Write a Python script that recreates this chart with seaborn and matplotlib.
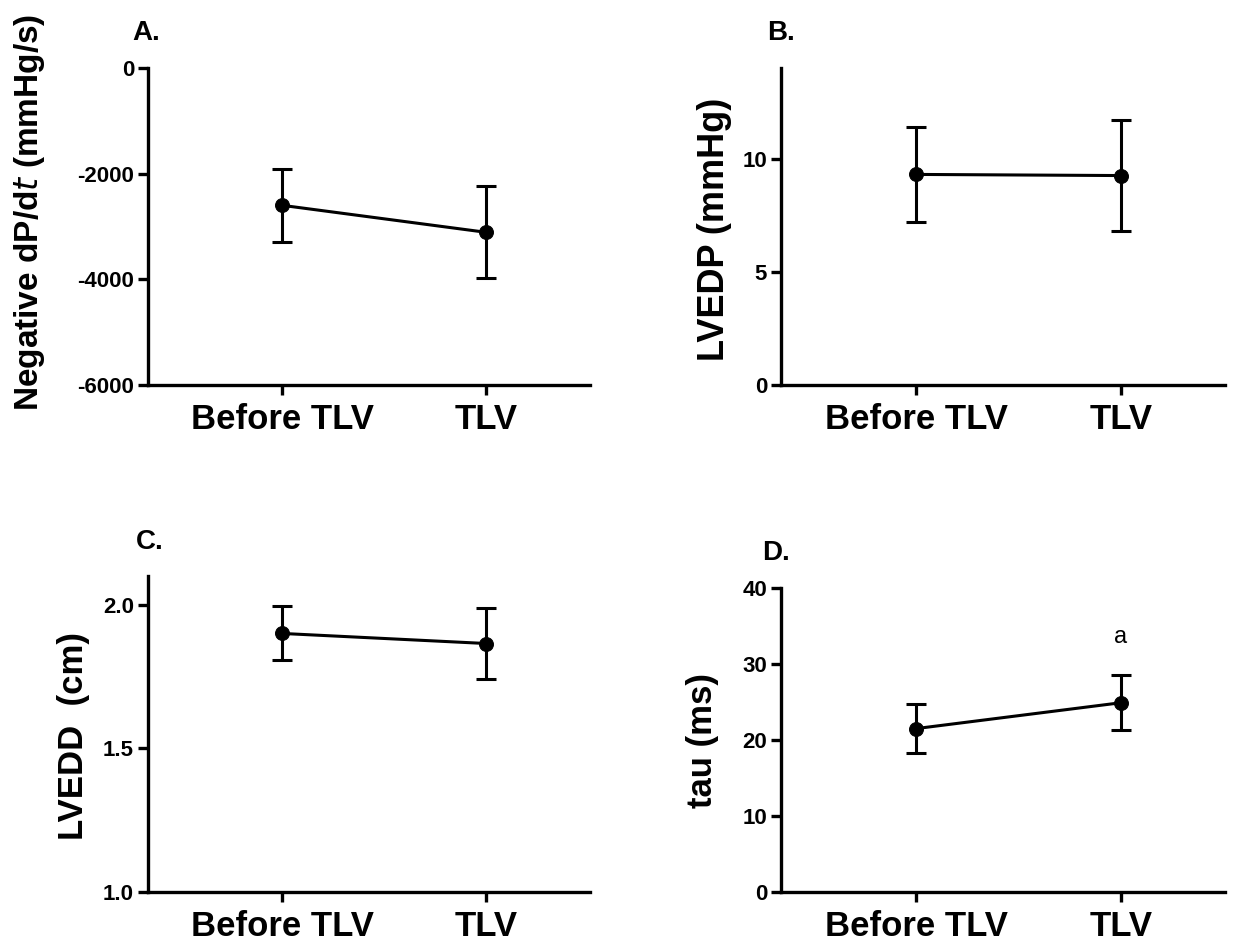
import matplotlib
matplotlib.use("Agg")
import matplotlib.pyplot as plt
import seaborn as sns
import pandas as pd
import numpy as np

sns.set_theme(style="ticks")
plt.rcParams['font.family'] = ['Liberation Sans', 'DejaVu Sans']
plt.rcParams.update({"text.color": "black", "axes.labelcolor": "black",
                     "xtick.color": "black", "ytick.color": "black",
                     "axes.edgecolor": "black"})

groups = ["Before TLV", "TLV"]

neg_dpdt_mean = [-2600, -3110]
neg_dpdt_sd = [690, 870]

lvedp_mean = [9.3, 9.25]
lvedp_sd = [2.1, 2.45]

lvedd_mean = [1.90, 1.865]
lvedd_sd = [0.094, 0.122]

tau_mean = [21.5, 24.9]
tau_sd = [3.25, 3.6]

panels = [
    dict(title="A.", mean=neg_dpdt_mean, sd=neg_dpdt_sd,
         ylabel=r"Negative dP/d$\mathit{t}$ (mmHg/s)", ylsize=24,
         ylim=(-6000, 0), yticks=[-6000, -4000, -2000, 0], fmt="{:.0f}"),
    dict(title="B.", mean=lvedp_mean, sd=lvedp_sd, ylabel="LVEDP (mmHg)",
         ylsize=26,
         ylim=(0, 14), yticks=[0, 5, 10], fmt="{:.0f}"),
    dict(title="C.", mean=lvedd_mean, sd=lvedd_sd, ylabel="LVEDD  (cm)",
         ylsize=25,
         ylim=(1.0, 2.1), yticks=[1.0, 1.5, 2.0], fmt="{:.1f}"),
    dict(title="D.", mean=tau_mean, sd=tau_sd, ylabel="tau (ms)", ylsize=25,
         ylim=(0, 40), yticks=[0, 10, 20, 30, 40], fmt="{:.0f}"),
]

W, H = 1257, 941
fig = plt.figure(figsize=(W / 100, H / 100), dpi=100)

# axes boxes in pixels: left, top, right, bottom
boxes = [(148, 68, 590, 385), (781, 68, 1225, 385),
         (148, 576, 590, 892), (781, 588, 1225, 892)]
title_pos = [(146, 33), (781, 33), (150, 542), (776, 553)]
ylabel_pos = [(30, 212), (714, 229), (73, 736), (703, 741)]

for p, box, tp, ylp in zip(panels, boxes, title_pos, ylabel_pos):
    l, t, r, b = box
    ax = fig.add_axes([l / W, 1 - b / H, (r - l) / W, (b - t) / H])
    df = pd.DataFrame({"group": groups, "value": p["mean"], "sd": p["sd"]})
    sns.lineplot(data=df, x="group", y="value", ax=ax, color="black",
                 linewidth=2.2, marker="o", markersize=10,
                 markeredgecolor="black", sort=False)
    ax.errorbar(df["group"], df["value"], yerr=df["sd"], fmt="none",
                ecolor="black", elinewidth=2.2, capsize=7, capthick=2.2)
    ax.set_xlim(-0.66, 1.51)
    ax.set_ylim(*p["ylim"])
    ax.set_yticks(p["yticks"])
    ax.set_yticklabels([p["fmt"].format(v) for v in p["yticks"]],
                       fontsize=16, fontweight="bold")
    ax.set_xticks([0, 1])
    ax.set_xticklabels(groups, fontsize=25, fontweight="bold")
    ax.set_xlabel("")
    ax.set_ylabel("")
    sns.despine(ax=ax)
    for s in ["left", "bottom"]:
        ax.spines[s].set_linewidth(2.4)
        ax.spines[s].set_color("black")
    ax.tick_params(axis="both", width=2.4, length=7, color="black", pad=3)
    ax.tick_params(axis="x", pad=6)
    fig.text(tp[0] / W, 1 - tp[1] / H, p["title"], fontsize=20,
             fontweight="bold", ha="center", va="center")
    fig.text(ylp[0] / W, 1 - ylp[1] / H, p["ylabel"], fontsize=p["ylsize"],
             fontweight="bold", rotation=90, ha="center", va="center")
    if p["title"] == "D.":
        ax.text(1, 33.5, "a", fontsize=17, ha="center", va="center")

fig.savefig("out.png", dpi=100)
